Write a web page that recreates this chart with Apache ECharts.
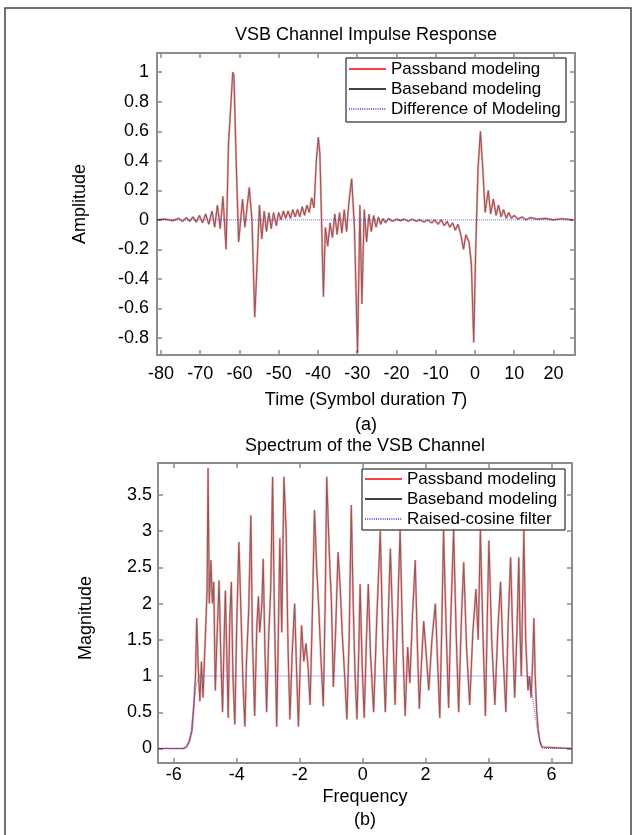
<!DOCTYPE html>
<html>
<head>
<meta charset="utf-8">
<script src="https://cdn.jsdelivr.net/npm/echarts@6/dist/echarts.min.js"></script>
<style>
  html, body { margin: 0; padding: 0; background: #fff; }
  #chart { width: 634px; height: 835px; }
</style>
</head>
<body>
<div id="chart"></div>
<script>
// ---- (a) impulse response: time in symbol durations T, amplitude ----
const timeT = [
  -81, -79, -77, -75.5, -74.5, -73.5, -72.7, -71.8, -71, -70.2,
  -69.4, -68.6, -67.8, -67, -66.3, -65.6, -64.9, -64.2, -63.4, -62.8,
  -62.4, -61.7, -61.4, -60.9, -60.2, -59.2, -58.6, -57.5, -56.8, -56.1,
  -55.5, -54.9, -54.3, -53.7, -53.1, -52.5, -51.9, -51.3, -50.6, -50,
  -49.4, -48.8, -48.2, -47.6, -47, -46.4, -45.8, -45.2, -44.6, -44,
  -43.4, -42.8, -42.2, -41.6, -41, -40.4, -39.9, -39.5, -38.6, -38.1,
  -37.5, -36.9, -36.3, -35.7, -35.1, -34.5, -33.9, -33.3, -32.7, -32.1,
  -31.4, -30.7, -29.9, -29.3, -28.8, -28.2, -27.6, -27, -26.4, -25.8,
  -25.2, -24.6, -24, -23.4, -22.8, -22, -21, -20, -19, -18,
  -17, -16, -15, -14, -13, -12, -11, -10.2, -9.4, -8.6,
  -7.8, -7.1, -6.4, -5.7, -5, -4.3, -3.6, -2.9, -2.3, -1.5,
  -0.9, -0.3, 0.2, 0.8, 1.4, 2, 2.6, 3.4, 4, 4.7,
  5.4, 6, 6.7, 7.3, 8, 8.6, 9.3, 10, 11, 12,
  13, 14, 16, 18, 20, 22, 25
];
const passband = [
  0, 0.005, -0.005, 0.01, -0.01, 0.015, -0.01, 0.02, -0.015, 0.03,
  -0.02, 0.04, -0.03, 0.06, -0.05, 0.1, -0.06, 0.16, -0.2, 0.5,
  0.5, 1.0, 0.98, 0.47, -0.15, 0.14, -0.05, 0.22, 0.0, -0.66,
  -0.3, 0.1, -0.13, 0.06, -0.08, 0.05, -0.06, 0.05, -0.04, 0.05,
  0.0, 0.06, 0.01, 0.06, 0.01, 0.07, 0.02, 0.07, 0.02, 0.09,
  0.03, 0.1, 0.05, 0.15, 0.08, 0.4, 0.56, 0.45, -0.52, -0.05,
  -0.18, -0.02, -0.12, 0.04, -0.1, 0.05, -0.09, 0.07, -0.08, 0.12,
  0.28, -0.05, -0.9, 0.1, -0.57, 0.07, -0.15, 0.04, -0.08, 0.03,
  -0.05, 0.02, -0.03, 0.01, -0.02, 0.01, -0.01, 0.005, -0.005, 0.005,
  -0.01, 0.005, -0.01, 0.0, -0.015, 0.0, -0.02, 0.0, -0.03, 0.0,
  -0.04, -0.01, -0.05, -0.02, -0.07, -0.03, -0.1, -0.2, -0.1, -0.15,
  -0.3, -0.83, -0.2, 0.35, 0.6, 0.35, 0.05, 0.2, 0.04, 0.14,
  0.03, 0.1, 0.02, 0.07, 0.01, 0.05, 0.01, 0.03, 0.005, 0.02,
  0.0, 0.015, 0.005, 0.01, 0.0, 0.008, 0.0
];
// the baseband model overlays the passband model at this scale
const baseband = passband;
const diffT = [-81, -60, -40, -20, 0, 25];
const difference = [0, 0, 0, 0, 0, 0];

const timeTicks = [-80, -70, -60, -50, -40, -30, -20, -10, 0, 10, 20];
const ampTicks = [-0.8, -0.6, -0.4, -0.2, 0, 0.2, 0.4, 0.6, 0.8, 1];

// ---- (b) channel spectrum: normalized frequency, magnitude ----
const freq = [
  -6.5, -5.7, -5.6, -5.5, -5.42, -5.36, -5.31, -5.27, -5.22, -5.17,
  -5.12, -5.07, -5.0, -4.94, -4.91, -4.87, -4.82, -4.77, -4.73, -4.68,
  -4.62, -4.56, -4.5, -4.45, -4.4, -4.36, -4.32, -4.27, -4.22, -4.17,
  -4.12, -4.06, -4.0, -3.93, -3.86, -3.8, -3.74, -3.69, -3.62, -3.55,
  -3.5, -3.43, -3.36, -3.31, -3.27, -3.2, -3.16, -3.1, -3.05, -2.98,
  -2.92, -2.86, -2.8, -2.73, -2.68, -2.63, -2.57, -2.5, -2.43, -2.37,
  -2.31, -2.24, -2.16, -2.1, -2.04, -1.98, -1.94, -1.87, -1.8, -1.73,
  -1.67, -1.6, -1.53, -1.46, -1.4, -1.32, -1.25, -1.19, -1.14, -1.06,
  -0.99, -0.93, -0.86, -0.78, -0.71, -0.65, -0.57, -0.5, -0.43, -0.36,
  -0.3, -0.24, -0.18, -0.12, -0.08, -0.02, 0.05, 0.12, 0.18, 0.25,
  0.35, 0.45, 0.56, 0.64, 0.72, 0.8, 0.88, 0.95, 1.03, 1.1,
  1.19, 1.27, 1.35, 1.43, 1.5, 1.58, 1.67, 1.74, 1.8, 1.87,
  1.94, 2.02, 2.1, 2.2, 2.31, 2.38, 2.45, 2.51, 2.57, 2.65,
  2.73, 2.8, 2.89, 2.97, 3.05, 3.13, 3.21, 3.3, 3.4, 3.5,
  3.6, 3.67, 3.74, 3.82, 3.9, 3.95, 4.01, 4.1, 4.2, 4.29,
  4.38, 4.46, 4.55, 4.62, 4.7, 4.77, 4.83, 4.9, 4.96, 5.0,
  5.04, 5.08, 5.12, 5.18, 5.25, 5.3, 5.35, 5.4, 5.44, 5.48,
  5.53, 5.58, 5.63, 5.7, 5.75, 6.65
];
const passbandMag = [
  0, 0, 0.02, 0.1, 0.25, 0.6, 1.0, 1.8, 1.1, 0.65,
  1.2, 0.7, 1.5, 2.2, 3.87, 2.0, 2.6, 2.0, 2.3, 0.8,
  1.6, 2.32, 1.2, 0.5, 1.5, 2.18, 1.4, 0.42, 1.8, 2.3,
  1.0, 0.33, 1.7, 2.85, 1.8, 0.9, 0.3, 1.2, 1.9, 3.22,
  1.5, 0.45, 1.7, 2.1, 1.6, 2.0, 2.62, 1.3, 0.5, 1.6,
  2.2, 3.75, 1.8, 0.3, 1.5, 2.9, 1.6, 3.75, 3.0, 1.4,
  0.4, 1.3, 2.0, 1.1, 0.3, 1.2, 1.7, 1.2, 1.45, 1.1,
  0.6, 1.8, 3.29, 2.5, 2.0, 1.2, 0.58, 2.0, 3.75, 2.7,
  2.0, 0.85, 1.6, 2.71, 2.2, 1.6, 1.0, 0.4, 1.5, 3.36,
  2.0, 1.0, 0.4, 1.4, 2.27, 1.2, 0.42, 1.5, 2.27, 1.3,
  0.5, 1.8, 3.0, 1.5, 0.5, 1.6, 2.76, 1.8, 0.6, 1.7,
  3.01, 1.5, 0.45, 1.4, 0.9, 1.8, 2.6, 1.4, 0.55, 1.2,
  1.76, 1.3, 0.8, 1.5, 2.0, 1.2, 0.42, 1.6, 3.01, 1.7,
  0.56, 1.8, 3.01, 1.6, 0.5, 1.7, 2.57, 1.4, 0.6, 1.6,
  2.2, 1.5, 3.01, 1.6, 0.45, 1.6, 2.87, 1.5, 0.6, 1.6,
  2.3, 1.3, 0.5, 1.7, 2.64, 1.5, 0.7, 1.6, 2.64, 1.6,
  1.0, 2.0, 3.01, 1.5, 0.8, 1.0, 0.7, 1.2, 1.8, 1.0,
  0.5, 0.25, 0.1, 0.02, 0, 0
];
const basebandMag = passbandMag;
const rcFreq = [-6.5, -5.65, -5.55, -5.45, -5.38, -5.3, -5.2, 5.25, 5.35, 5.45, 5.55, 5.65, 5.72, 6.65];
const rcMag = [0, 0, 0.05, 0.25, 0.55, 0.85, 1, 1, 0.85, 0.55, 0.25, 0.05, 0, 0];

const freqTicks = [-6, -4, -2, 0, 2, 4, 6];
const magTicks = [0, 0.5, 1, 1.5, 2, 2.5, 3, 3.5];

const legendTop = ['Passband modeling', 'Baseband modeling', 'Difference of Modeling'];
const legendBottom = ['Passband modeling', 'Baseband modeling', 'Raised-cosine filter'];

const FONT = 'Liberation Sans, Arial, Helvetica, sans-serif';
const pairs = (xs, ys) => xs.map((x, i) => [x, ys[i]]);

const chart = echarts.init(document.getElementById('chart'), null, { renderer: 'canvas' });

// one MATLAB-style axis: grey box edge, inward ticks, optional labels
function boxAxis(grid, min, max, ticks, showLabels, pos, margin) {
  return {
    type: 'value', gridIndex: grid, min: min, max: max, position: pos,
    axisLine: { show: true, onZero: false, lineStyle: { color: '#8c8c8c', width: 2 } },
    axisTick: { show: true, inside: true, length: 5, customValues: ticks,
                lineStyle: { color: '#8c8c8c', width: 1.5 } },
    axisLabel: { show: showLabels, customValues: ticks, color: '#000', fontSize: 18,
                 fontFamily: FONT, margin: margin, formatter: v => String(v) },
    splitLine: { show: false }
  };
}

const keyStyles = [
  { stroke: '#ff0000', lineWidth: 1.5 },
  { stroke: '#000000', lineWidth: 1.5 },
  { stroke: '#3030ff', lineWidth: 1.5, lineDash: [1, 1.2] }
];

// boxed key: three short strokes with their captions
function legendGroup(x, y, w, h, firstRow, names) {
  const children = [
    { type: 'rect', shape: { x: 0, y: 0, width: w, height: h },
      style: { fill: '#fff', stroke: '#000', lineWidth: 1 } }
  ];
  names.forEach((name, i) => {
    const ry = firstRow + i * 20;
    children.push({ type: 'line', shape: { x1: 3, y1: ry, x2: 40, y2: ry }, style: keyStyles[i] });
    children.push({ type: 'text', x: 45, y: ry,
      style: { text: name, fontSize: 17, fontFamily: FONT, fill: '#000',
               align: 'left', verticalAlign: 'middle', textAlign: 'left', textVerticalAlign: 'middle' } });
  });
  return { type: 'group', x: x, y: y, z: 10, silent: true, children: children };
}

function lineSeries(name, axis, data, style) {
  return { name: name, type: 'line', xAxisIndex: axis, yAxisIndex: axis, showSymbol: false,
           symbol: 'none', data: data, lineStyle: Object.assign({}, style),
           itemStyle: { color: style.color } };
}

const redLine = { color: '#ff0000', width: 2.2, opacity: 0.35 };
const blackLine = { color: '#000000', width: 1.1, opacity: 0.45 };
const blueLine = { color: '#3030ff', width: 1, type: 'dotted', opacity: 0.7 };

function label(text, x, y, extra) {
  return Object.assign({ type: 'text', x: x, y: y, silent: true,
    style: { text: text, fontSize: 18, fontFamily: FONT, fill: '#000',
             align: 'center', verticalAlign: 'middle', textAlign: 'center', textVerticalAlign: 'middle' } },
    extra || {});
}

const option = {
  animation: false,
  backgroundColor: '#fff',
  grid: [
    { left: 157, top: 53, width: 418, height: 302 },
    { left: 158, top: 463, width: 414, height: 300 }
  ],
  xAxis: [
    boxAxis(0, -81, 25.5, timeTicks, true, 'bottom', 10),
    boxAxis(0, -81, 25.5, timeTicks, false, 'top', 8),
    boxAxis(1, -6.5, 6.65, freqTicks, true, 'bottom', 3),
    boxAxis(1, -6.5, 6.65, freqTicks, false, 'top', 8)
  ],
  yAxis: [
    boxAxis(0, -0.915, 1.13, ampTicks, true, 'left', 8),
    boxAxis(0, -0.915, 1.13, ampTicks, false, 'right', 8),
    boxAxis(1, -0.2, 3.94, magTicks, true, 'left', 6),
    boxAxis(1, -0.2, 3.94, magTicks, false, 'right', 8)
  ],
  series: [
    lineSeries(legendTop[0], 0, pairs(timeT, passband), redLine),
    lineSeries(legendTop[1], 0, pairs(timeT, baseband), blackLine),
    lineSeries(legendTop[2], 0, pairs(diffT, difference), blueLine),
    lineSeries(legendBottom[0], 2, pairs(freq, passbandMag), redLine),
    lineSeries(legendBottom[1], 2, pairs(freq, basebandMag), blackLine),
    lineSeries(legendBottom[2], 2, pairs(rcFreq, rcMag), blueLine)
  ],
  graphic: [
    { type: 'rect', shape: { x: 5, y: 8, width: 626, height: 840 },
      style: { fill: 'none', stroke: '#444', lineWidth: 1.5 }, silent: true },
    legendGroup(346, 58, 220, 64, 11, legendTop),
    legendGroup(362, 469, 203, 61, 10, legendBottom),
    label('VSB Channel Impulse Response', 366, 35),
    { type: 'text', x: 366, y: 400, silent: true,
      style: { text: '{n|Time (Symbol duration }{i|T}{n|)}',
               rich: { n: { fontSize: 18, fontFamily: FONT, fill: '#000' },
                       i: { fontSize: 18, fontFamily: FONT, fontStyle: 'italic', fill: '#000' } },
               align: 'center', verticalAlign: 'middle', textAlign: 'center', textVerticalAlign: 'middle' } },
    label('(a)', 366, 425),
    label('Amplitude', 80, 204, { rotation: Math.PI / 2 }),
    label('Spectrum of the VSB Channel', 365, 446),
    label('Frequency', 365, 797),
    label('(b)', 365, 820),
    label('Magnitude', 86, 618, { rotation: Math.PI / 2 })
  ]
};

chart.setOption(option);
</script>
</body>
</html>
